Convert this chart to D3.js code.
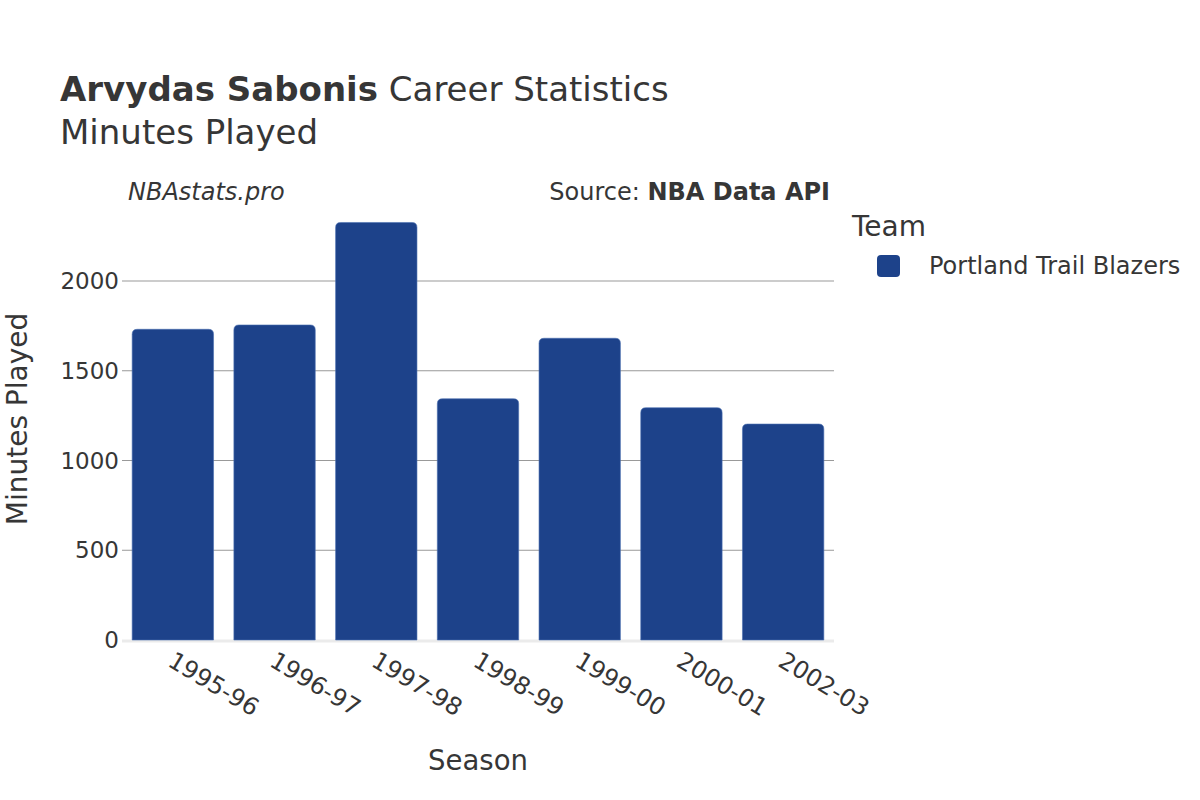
<!DOCTYPE html>
<html><head><meta charset="utf-8">
<script src="https://cdn.jsdelivr.net/npm/d3@7"></script>
<style>body{margin:0;background:#fff;} text{font-family:"DejaVu Sans",sans-serif;fill:#363636;}</style>
</head><body>
<svg id="chart" width="1200" height="800"></svg>
<script>
const seasons = ["1995-96","1996-97","1997-98","1998-99","1999-00","2000-01","2002-03"];
const minutes = [1731,1755,2326,1344,1681,1294,1203];
const yTicks = [0,500,1000,1500,2000];
const team = "Portland Trail Blazers";
const barColor = "#1d428a";

(function(){
const svg = d3.select("#chart");
const plotLeft = 122, plotRight = 834, plotBottom = 640;
const x = d3.scaleBand().domain(seasons).range([plotLeft,plotRight]).paddingInner(0.2).paddingOuter(0.1);
const y = d3.scaleLinear().domain([0,2000]).range([plotBottom, plotBottom - 359]);

// gridlines
svg.append("g").selectAll("line").data(yTicks.filter(d=>d>0)).join("line")
  .attr("x1",plotLeft).attr("x2",plotRight).attr("y1",d=>y(d)).attr("y2",d=>y(d))
  .attr("stroke","#999").attr("stroke-width",1);
// zero line
svg.append("line").attr("x1",plotLeft).attr("x2",plotRight).attr("y1",y(0)+1).attr("y2",y(0)+1)
  .attr("stroke","#ebebeb").attr("stroke-width",3);

// bars with rounded top
const r = 5;
svg.append("g").selectAll("path").data(seasons).join("path")
  .attr("d",(d,i)=>{
    const x0 = x(d), w = x.bandwidth(), y0 = y(minutes[i]), yb = y(0);
    return `M${x0},${yb}V${y0+r}Q${x0},${y0} ${x0+r},${y0}H${x0+w-r}Q${x0+w},${y0} ${x0+w},${y0+r}V${yb}Z`;
  })
  .attr("fill",barColor).attr("stroke","#4a6fb0").attr("stroke-width",0.6);

// y tick labels
svg.append("g").selectAll("text").data(yTicks).join("text")
  .attr("x",119).attr("y",d=>y(d)).attr("dy","0.35em").attr("text-anchor","end")
  .attr("font-size",23).text(d=>d);

// x tick labels
svg.append("g").selectAll("text").data(seasons).join("text")
  .attr("transform",d=>`translate(${x(d)+x.bandwidth()/2-2},${658}) rotate(31)`)
  .attr("font-size",24).attr("text-anchor","start").attr("dy","0.35em").text(d=>d);

// axis titles
svg.append("text").attr("x",478).attr("y",770).attr("text-anchor","middle").attr("font-size",27.5).text("Season");
svg.append("text").attr("transform","translate(27,419) rotate(-90)").attr("text-anchor","middle").attr("font-size",28).text("Minutes Played");

// titles
const t = svg.append("text").attr("x",60).attr("y",101).attr("font-size",34);
t.append("tspan").attr("font-weight","bold").text("Arvydas Sabonis");
t.append("tspan").text(" Career Statistics");
svg.append("text").attr("x",60).attr("y",144).attr("font-size",34).text("Minutes Played");

svg.append("text").attr("x",128).attr("y",200).attr("font-size",24).attr("font-style","italic").text("NBAstats.pro");
const s = svg.append("text").attr("x",830).attr("y",200).attr("font-size",24).attr("text-anchor","end");
s.append("tspan").text("Source: ");
s.append("tspan").attr("font-weight","bold").text("NBA Data API");

// legend
svg.append("text").attr("x",852).attr("y",236).attr("font-size",28).text("Team");
svg.append("rect").attr("x",877).attr("y",255).attr("width",23).attr("height",22).attr("rx",4).attr("fill",barColor);
svg.append("text").attr("x",929).attr("y",266).attr("dy","0.35em").attr("font-size",24).text(team);
})();
</script>
</body></html>
